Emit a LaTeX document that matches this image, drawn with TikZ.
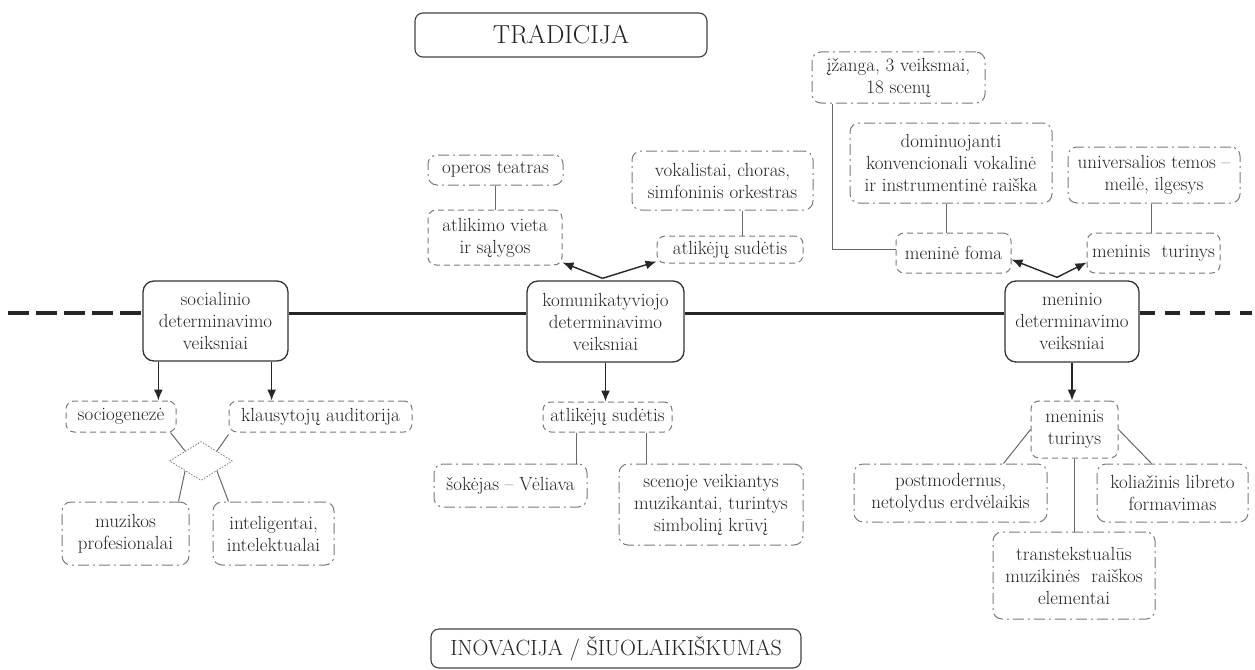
\documentclass[tikz,border=0pt]{standalone}
\usepackage{fontspec}
\usetikzlibrary{shapes.geometric,arrows.meta,calc}
\definecolor{ink}{HTML}{222222}
\definecolor{bord}{HTML}{7A7A7A}
\begin{document}
\begin{tikzpicture}[x=1pt,y=-1pt,
  every node/.style={text=ink, font=\fontsize{19}{22}\selectfont, align=center, inner sep=0pt},
  sz/.style 2 args={minimum width=#1pt, minimum height=#2pt},
  mainbox/.style={draw=black!80, line width=1.3pt, rounded corners=11pt},
  titlebox/.style={draw=black!75, line width=1.1pt, rounded corners=8pt, font=\fontsize{22}{26}\selectfont},
  dbox/.style={draw=bord, line width=1pt, rounded corners=8pt, dash pattern=on 6pt off 4pt},
  ddbox/.style={draw=bord, line width=1pt, rounded corners=9pt, dash pattern=on 11pt off 4pt on 2pt off 4pt},
  link/.style={draw=bord!85!black, line width=1pt},
  arr/.style={draw=black!85, line width=1.4pt, -{Latex[length=11pt,width=9pt]}},
  axis/.style={draw=black!85, line width=3pt},
  axisdashL/.style={draw=black!85, line width=4pt, dash pattern=on 21pt off 7pt},
  axisdashR/.style={draw=black!85, line width=4pt, dash pattern=on 15pt off 10pt},
  dia/.style={diamond, draw=bord, line width=0.8pt, dash pattern=on 1.5pt off 1.5pt}
]
\useasboundingbox (0,0) rectangle (1255,669);

% titles
\node[titlebox, sz={292}{44}, font=\fontsize{26}{30}\selectfont] (trad) at (561,35) {TRADICIJA};
\node[titlebox, sz={370}{39}] (inov) at (616,648.5) {INOVACIJA / ŠIUOLAIKIŠKUMAS};

% main boxes
\node[mainbox, sz={145}{80}] (soc) at (215.5,321) {socialinio\\determinavimo\\veiksniai};
\node[mainbox, sz={157}{81}] (kom) at (605.5,321.5) {komunikatyviojo\\determinavimo\\veiksniai};
\node[mainbox, sz={134}{81}] (men) at (1072,321.5) {meninio\\determinavimo\\veiksniai};

% axis
\coordinate (L) at (8,313);
\coordinate (R) at (1252,313);
\draw[axisdashL] (L) -- (L -| soc.west);
\draw[axis] (L -| soc.east) -- (L -| kom.west);
\draw[axis] (L -| kom.east) -- (L -| men.west);
\draw[axisdashR] (L -| men.east) -- (R);

% social branch
\node[dbox, sz={110}{31}] (socio) at (121,416.5) {sociogenezė};
\node[dbox, sz={183}{31}] (klaus) at (320.5,416.5) {klausytojų auditorija};
\node[dia, sz={63}{39}] (dm) at (201,461) {};
\node[ddbox, sz={127}{63}] (muz) at (125.5,533.5) {muzikos\\profesionalai};
\node[ddbox, sz={121}{63}] (intel) at (273.5,533.5) {inteligentai,\\intelektualai};

\draw[arr] ([xshift=16pt]soc.south west) -- ([xshift=16pt]soc.south west |- socio.north);
\draw[arr] ([xshift=-17pt]soc.south east) -- ([xshift=-17pt]soc.south east |- klaus.north);
\draw[link] ([xshift=-6pt]socio.south east) -- (dm.north west);
\draw[link] ([yshift=-2pt]klaus.south west) -- (dm.north east);
\draw[link] (dm.south west) -- ([xshift=-11pt]muz.north east);
\draw[link] (dm.south east) -- ([xshift=16pt]intel.north west);

% communicative branch
\node[ddbox, sz={135}{30}] (operos) at (495.5,170) {operos teatras};
\node[dbox, sz={134}{55}] (atlvieta) at (495,237.5) {atlikimo vieta\\ir sąlygos};
\node[ddbox, sz={181}{59}] (vokal) at (722.5,180.5) {vokalistai, choras,\\simfoninis orkestras};
\node[dbox, sz={146}{27}] (atlA) at (730,249.5) {atlikėjų sudėtis};
\node[dbox, sz={129}{30}] (atlB) at (607.5,417) {atlikėjų sudėtis};
\node[ddbox, sz={153}{43}] (sok) at (510.5,485.5) {šokėjas – Vėliava};
\node[ddbox, sz={184}{81}] (scen) at (711,504.5) {scenoje veikiantys\\muzikantai, turintys\\simbolinį krūvį};

\draw[link] (operos.south) -- (operos.south |- atlvieta.north);
\draw[link] ([xshift=20pt]vokal.south) -- ([xshift=20pt]vokal.south |- atlA.north);
\draw[arr] ([xshift=-3pt,yshift=2pt]kom.north) -- ([yshift=3pt]atlvieta.south east);
\draw[arr] ([xshift=-3pt,yshift=2pt]kom.north) -- ([yshift=2pt]atlA.south west);
\draw[arr] (kom.south) -- (kom.south |- atlB.north);
\draw[link] ([xshift=34pt]atlB.south west) -- ([xshift=34pt]atlB.south west |- sok.north);
\draw[link] ([xshift=-26pt]atlB.south east) -- ([xshift=-26pt]atlB.south east |- scen.north);

% artistic branch
\node[ddbox, sz={173}{51}] (izanga) at (898.5,77.5) {įžanga, 3 veiksmai,\\18 scenų};
\node[ddbox, sz={202}{80}] (domin) at (951,163) {dominuojanti\\konvencionali vokalinė\\ir instrumentinė raiška};
\node[ddbox, sz={172}{56}] (univ) at (1154,175) {universalios temos –\\meilė, ilgesys};
\node[dbox, sz={115}{40}] (foma) at (953.5,253) {meninė foma};
\node[dbox, sz={133}{40}] (turA) at (1153.5,253) {meninis\ \ turinys};
\node[dbox, sz={87}{57}] (turB) at (1074.5,429.5) {meninis\\turinys};
\node[ddbox, sz={193}{58}] (post) at (950.5,493) {postmodernus,\\netolydus erdvėlaikis};
\node[ddbox, sz={151}{58}] (kol) at (1172.5,493) {koliažinis libreto\\formavimas};
\node[ddbox, sz={162}{87}] (trans) at (1074,575.5) {transtekstualūs\\muzikinės\ \ raiškos\\elementai};

\draw[link] ([xshift=21pt]izanga.south west) |- ([yshift=4pt]foma.west);
\draw[link] ([xshift=-5pt]domin.south) -- ([xshift=-5pt]domin.south |- foma.north);
\draw[link] ([xshift=-3pt]univ.south) -- ([xshift=-3pt]univ.south |- turA.north);
\draw[arr] ([xshift=-15pt,yshift=3pt]men.north) -- ([yshift=14pt]foma.south east);
\draw[arr] ([xshift=-15pt,yshift=3pt]men.north) -- ([yshift=11pt]turA.south west);
\draw[arr] (men.south) -- (men.south |- turB.north);
\draw[link] (turB.west) -- ([xshift=-44pt]post.north east);
\draw[link] (turB.east) -- ([xshift=55pt]kol.north west);
\draw[link] (turB.south) -- (turB.south |- trans.north);
\end{tikzpicture}
\end{document}
